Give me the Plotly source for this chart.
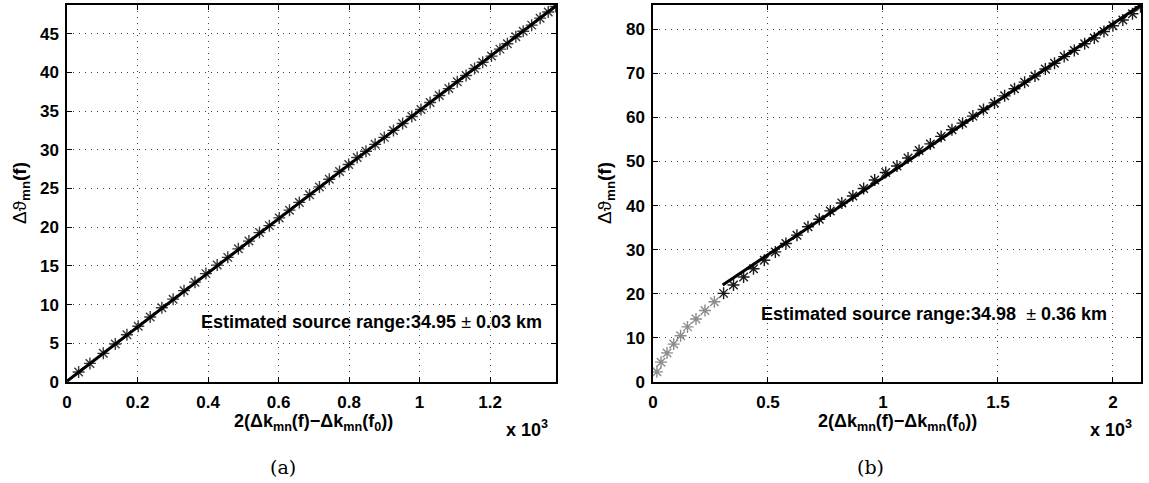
import plotly.graph_objects as go

# ---------------- data (a) ----------------
a_x = [0.033, 0.065, 0.103, 0.137, 0.170, 0.202, 0.236, 0.269, 0.301, 0.332,
       0.363, 0.394, 0.426, 0.456, 0.486, 0.516, 0.546, 0.574, 0.602, 0.631,
       0.659, 0.688, 0.716, 0.744, 0.773, 0.799, 0.823, 0.848, 0.874, 0.900,
       0.926, 0.952, 0.978, 1.004, 1.030, 1.056, 1.083, 1.107, 1.132, 1.156,
       1.179, 1.204, 1.228, 1.249, 1.273, 1.294, 1.318, 1.342, 1.365, 1.386]
a_y = [1.3, 2.4, 3.7, 4.9, 6.1, 7.2, 8.4, 9.6, 10.7, 11.8,
       12.9, 14.0, 15.1, 16.1, 17.2, 18.2, 19.3, 20.2, 21.2, 22.2,
       23.2, 24.2, 25.2, 26.2, 27.2, 28.1, 29.0, 29.8, 30.7, 31.6,
       32.5, 33.4, 34.3, 35.2, 36.1, 37.0, 37.9, 38.8, 39.6, 40.5,
       41.3, 42.1, 43.0, 43.7, 44.6, 45.3, 46.1, 47.0, 47.8, 48.5]
a_fit_x = [0.0, 1.387]
a_fit_y = [0.1, 48.6]
a_label = "Estimated source range:34.95 ± 0.03 km"

# ---------------- data (b) ----------------
b_gray_x = [0.017, 0.035, 0.061, 0.090, 0.120, 0.150, 0.187, 0.226, 0.267]
b_gray_y = [2.3, 4.5, 6.6, 8.6, 10.5, 12.5, 14.3, 16.2, 18.2]
b_x = [0.307, 0.350, 0.394, 0.437, 0.484, 0.532, 0.578, 0.626, 0.674, 0.723,
       0.771, 0.821, 0.869, 0.916, 0.964, 1.012, 1.061, 1.109, 1.157, 1.206,
       1.253, 1.300, 1.346, 1.391, 1.437, 1.485, 1.529, 1.572, 1.616, 1.661,
       1.706, 1.746, 1.788, 1.832, 1.877, 1.919, 1.961, 2.000, 2.043, 2.085,
       2.120]
b_y = [20.1, 22.0, 23.8, 25.7, 27.6, 29.5, 31.4, 33.3, 35.2, 36.9,
       38.8, 40.6, 42.2, 43.9, 45.8, 47.5, 49.0, 50.8, 52.5, 54.0,
       55.7, 57.2, 58.7, 60.3, 61.8, 63.3, 64.9, 66.5, 68.0, 69.4,
       71.0, 72.3, 73.8, 75.2, 76.7, 78.0, 79.5, 80.8, 82.1, 83.5,
       85.1]
b_fit_x = [0.303, 2.122]
b_fit_y = [22.0, 85.5]
b_label = "Estimated source range:34.98  ± 0.36 km"

a_xticks = [0, 0.2, 0.4, 0.6, 0.8, 1.0, 1.2]
a_xticktext = ["0", "0.2", "0.4", "0.6", "0.8", "1", "1.2"]
a_yticks = [0, 5, 10, 15, 20, 25, 30, 35, 40, 45]
a_yticktext = ["0", "5", "10", "15", "20", "25", "30", "35", "40", "45"]
b_xticks = [0, 0.5, 1.0, 1.5, 2.0]
b_xticktext = ["0", "0.5", "1", "1.5", "2"]
b_yticks = [0, 10, 20, 30, 40, 50, 60, 70, 80]
b_yticktext = ["0", "10", "20", "30", "40", "50", "60", "70", "80"]

W, H = 1149, 483
FONT = "Liberation Sans, Arial, Helvetica, sans-serif"

def px_x(p):
    return p / W

def px_y(p):
    return 1 - p / H

def bold(lst):
    return ["<b>" + t + "</b>" for t in lst]

fig = go.Figure()

def stars(color):
    return dict(symbol="asterisk-open", size=10, color=color, line=dict(width=1.4, color=color))

fig.add_trace(go.Scatter(x=a_x, y=a_y, mode="markers", xaxis="x", yaxis="y",
                         marker=stars("#3a3a3a"), showlegend=False))
fig.add_trace(go.Scatter(x=a_fit_x, y=a_fit_y, mode="lines", xaxis="x", yaxis="y",
                         line=dict(color="black", width=3), showlegend=False))

fig.add_trace(go.Scatter(x=b_gray_x, y=b_gray_y, mode="markers", xaxis="x2", yaxis="y2",
                         marker=stars("#8c8c8c"), showlegend=False))
fig.add_trace(go.Scatter(x=b_x, y=b_y, mode="markers", xaxis="x2", yaxis="y2",
                         marker=stars("#1a1a1a"), showlegend=False))
fig.add_trace(go.Scatter(x=b_fit_x, y=b_fit_y, mode="lines", xaxis="x2", yaxis="y2",
                         line=dict(color="black", width=3), showlegend=False))

tickfont = dict(family=FONT, size=17, color="black")
common = dict(showline=True, linecolor="black", linewidth=1.5, mirror="ticks",
              ticks="inside", ticklen=5, tickwidth=1, tickcolor="black",
              showgrid=True, gridcolor="#444444", gridwidth=1, griddash="1px,5px",
              zeroline=False, tickfont=tickfont, automargin=False)

fig.update_layout(
    width=W, height=H,
    margin=dict(l=0, r=0, t=0, b=0, autoexpand=False),
    paper_bgcolor="white", plot_bgcolor="white",
    xaxis=dict(domain=[px_x(67), px_x(556)], range=[0, 1.387], anchor="y",
               tickvals=a_xticks, ticktext=bold(a_xticktext), ticklabelstandoff=4, **common),
    yaxis=dict(domain=[px_y(382), px_y(5)], range=[0, 48.7], anchor="x",
               tickvals=a_yticks, ticktext=bold(a_yticktext), ticklabelstandoff=3, **common),
    xaxis2=dict(domain=[px_x(653), px_x(1141)], range=[0, 2.122], anchor="y2",
                tickvals=b_xticks, ticktext=bold(b_xticktext), ticklabelstandoff=4, **common),
    yaxis2=dict(domain=[px_y(382), px_y(5)], range=[0, 85.5], anchor="x2",
                tickvals=b_yticks, ticktext=bold(b_yticktext), ticklabelstandoff=3, **common),
)

def paper_ann(text, x, y, angle=0, size=18, family=FONT):
    fig.add_annotation(text=text, x=px_x(x), y=px_y(y), xref="paper", yref="paper",
                       showarrow=False, textangle=angle, xanchor="center", yanchor="middle",
                       font=dict(family=family, size=size, color="black"))

ylab = "Δϑ<b><sub>mn</sub>(f)</b>"
xlab = "<b>2(Δk<sub>mn</sub>(f)−Δk<sub>mn</sub>(f<sub>0</sub>))</b>"
paper_ann(ylab, 21, 193, angle=-90, size=19)
paper_ann(ylab, 606, 193, angle=-90, size=19)
paper_ann(xlab, 313, 422)
paper_ann(xlab, 897, 422)
paper_ann("<b>x 10<sup>3</sup></b>", 527, 428)
paper_ann("<b>x 10<sup>3</sup></b>", 1111, 428)
paper_ann("(a)", 283, 467, size=19, family="DejaVu Serif, serif")
paper_ann("(b)", 870, 467, size=19, family="DejaVu Serif, serif")

def label_html(s):
    pre, post = s.split("±")
    return "<b>" + pre + "</b>±<b>" + post + "</b>"

ann_font = dict(family=FONT, size=18, color="black")
fig.add_annotation(text=label_html(a_label), x=0.864, y=7.8, xref="x", yref="y",
                   showarrow=False, font=ann_font, xanchor="center", yanchor="middle")
fig.add_annotation(text=label_html(b_label), x=(934 - 653) / 230.0, y=(381.7 - 313.3) / 4.404,
                   xref="x2", yref="y2",
                   showarrow=False, font=ann_font, xanchor="center", yanchor="middle")

fig.write_html("out.html", config={"displayModeBar": False},
               post_script="document.body.style.margin='0px';document.body.style.padding='0px';")
